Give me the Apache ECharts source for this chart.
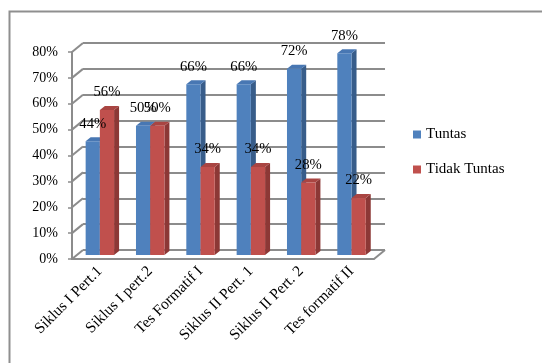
<!DOCTYPE html>
<html>
<head>
<meta charset="utf-8">
<script src="https://cdn.jsdelivr.net/npm/echarts@6/dist/echarts.min.js"></script>
<style>
  html, body { margin: 0; padding: 0; background: #fff; }
  #chart { width: 542px; height: 363px; }
</style>
</head>
<body>
<div id="chart"></div>
<script>
// data
var categories = ['Siklus I Pert.1', 'Siklus I pert.2', 'Tes Formatif I', 'Siklus II Pert. 1', 'Siklus II Pert. 2', 'Tes formatif II'];
var tuntas = [44, 50, 66, 66, 72, 78];
var tidakTuntas = [56, 50, 34, 34, 28, 22];
var yTickValues = [0, 10, 20, 30, 40, 50, 60, 70, 80];
var yTickLabels = ['0%', '10%', '20%', '30%', '40%', '50%', '60%', '70%', '80%'];

var font = 'Liberation Serif';
var gridColor = '#8c8c8c';
var gapRatio = 0.435;
var depthX = 5, depthY = 4;   // bar depth
var wallX = 11, wallY = 9;    // back wall offset

// draws side + top face of a bar (3d look)
function barFaces(idx, sideColor, topColor) {
    return function (params, api) {
        var i = api.value(0), v = api.value(1);
        var top = api.coord([i, v]);
        var base = api.coord([i, 0]);
        var band = api.size([1, 0])[0];
        var bw = band * (1 - gapRatio) / 2;
        var x0 = idx === 0 ? top[0] - bw : top[0];
        var x1 = x0 + bw;
        return {
            type: 'group',
            children: [
                { type: 'polygon', shape: { points: [[x1, top[1]], [x1 + depthX, top[1] - depthY], [x1 + depthX, base[1] - depthY], [x1, base[1]]] }, style: { fill: sideColor } },
                { type: 'polygon', shape: { points: [[x0, top[1]], [x0 + depthX, top[1] - depthY], [x1 + depthX, top[1] - depthY], [x1, top[1]]] }, style: { fill: topColor } }
            ]
        };
    };
}

// diagonal connectors between front axis and back wall
function wallDiagonals(params, api) {
    var v = api.value(1);
    var y = api.coord([0, v])[1];
    var cs = params.coordSys;
    var kids = [{ type: 'line', shape: { x1: cs.x, y1: y, x2: cs.x + wallX, y2: y - wallY }, style: { stroke: gridColor, lineWidth: 2 } }];
    if (v === 0) {
        kids.push({ type: 'line', shape: { x1: cs.x + cs.width, y1: y, x2: cs.x + cs.width + wallX, y2: y - wallY }, style: { stroke: gridColor, lineWidth: 2 } });
    }
    return { type: 'group', children: kids };
}

var chart = echarts.init(document.getElementById('chart'));
var gridW = 302, gridH = 207;
chart.setOption({
    animation: false,
    textStyle: { fontFamily: font },
    graphic: [{
        type: 'rect', left: 7, top: 9, shape: { width: 600, height: 420 },
        style: { fill: 'none', stroke: '#8f8f8f', lineWidth: 2 }, z: -1
    }],
    legend: {
        orient: 'vertical',
        left: 408,
        top: 122,
        itemWidth: 8,
        itemHeight: 8,
        itemGap: 20,
        icon: 'rect',
        data: ['Tuntas', 'Tidak Tuntas'],
        textStyle: { fontFamily: font, fontSize: 15, color: '#000' }
    },
    grid: [
        { left: 72, top: 52, width: gridW, height: gridH },          // front
        { left: 72 + wallX, top: 52 - wallY, width: gridW, height: gridH }, // back wall
        { left: 74.7, top: 48, width: gridW, height: gridH }          // bars
    ],
    xAxis: [
        {
            gridIndex: 0, type: 'category', data: categories,
            axisLine: { lineStyle: { color: gridColor, width: 2 } },
            axisTick: { length: 4, lineStyle: { color: gridColor, width: 1.5 } },
            axisLabel: { show: false }
        },
        { gridIndex: 1, type: 'category', data: categories, show: false },
        {
            gridIndex: 2, type: 'category', data: categories,
            axisLine: { show: false }, axisTick: { show: false },
            axisLabel: { rotate: 45, margin: 14, fontSize: 15.5, color: '#000', fontFamily: font, interval: 0 }
        }
    ],
    yAxis: [
        {
            gridIndex: 0, type: 'value', min: 0, max: 80, interval: 10,
            axisLine: { show: true, lineStyle: { color: gridColor, width: 2 } },
            axisTick: { show: true, length: 4, lineStyle: { color: gridColor, width: 1.5 } },
            splitLine: { show: false },
            axisLabel: {
                margin: 14, fontSize: 14, color: '#000', fontFamily: font,
                formatter: function (v) { return yTickLabels[yTickValues.indexOf(v)]; }
            }
        },
        {
            gridIndex: 1, type: 'value', min: 0, max: 80, interval: 10,
            axisLine: { show: false }, axisTick: { show: false }, axisLabel: { show: false },
            splitLine: { show: true, lineStyle: { color: gridColor, width: 2 } }
        },
        { gridIndex: 2, type: 'value', min: 0, max: 80, show: false, splitLine: { show: false } }
    ],
    series: [
        {
            type: 'custom', name: 'wall', xAxisIndex: 0, yAxisIndex: 0, silent: true,
            renderItem: wallDiagonals,
            data: yTickValues.map(function (v) { return [0, v]; })
        },
        {
            name: 'Tuntas', type: 'bar', xAxisIndex: 2, yAxisIndex: 2,
            data: tuntas, barGap: '0%', barCategoryGap: (gapRatio * 100) + '%',
            itemStyle: { color: '#4f81bd' },
            label: { show: true, position: 'top', distance: 10, formatter: '{c}%', color: '#000', fontFamily: font, fontSize: 14.7 }
        },
        {
            name: 'Tuntas 3d', type: 'custom', xAxisIndex: 2, yAxisIndex: 2, silent: true,
            renderItem: barFaces(0, '#385d8a', '#4877b3'),
            data: tuntas.map(function (v, i) { return [i, v]; })
        },
        {
            name: 'Tidak Tuntas', type: 'bar', xAxisIndex: 2, yAxisIndex: 2,
            data: tidakTuntas, barGap: '0%', barCategoryGap: (gapRatio * 100) + '%',
            itemStyle: { color: '#c0504d' },
            label: { show: true, position: 'top', distance: 10, formatter: '{c}%', color: '#000', fontFamily: font, fontSize: 14.7 }
        },
        {
            name: 'Tidak Tuntas 3d', type: 'custom', xAxisIndex: 2, yAxisIndex: 2, silent: true,
            renderItem: barFaces(1, '#8c3836', '#a94542'),
            data: tidakTuntas.map(function (v, i) { return [i, v]; })
        }
    ]
});
</script>
</body>
</html>
